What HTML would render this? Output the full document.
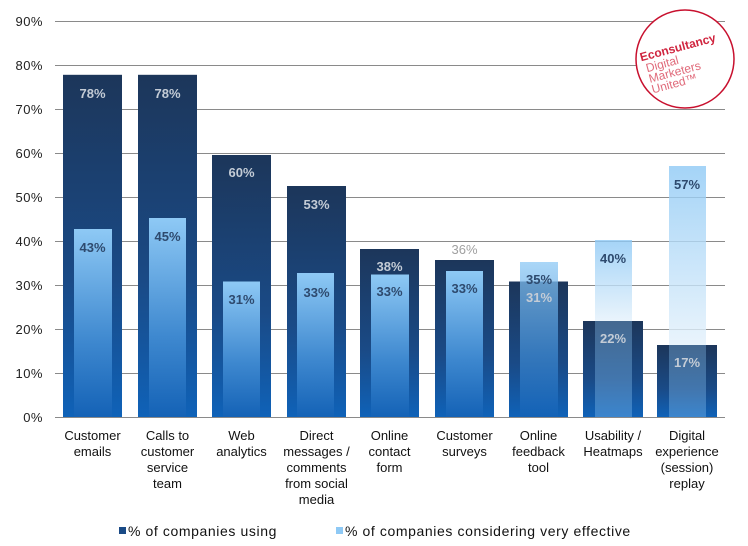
<!DOCTYPE html>
<html><head><style>
html,body{margin:0;padding:0;background:#fff;}
svg{display:block;font-family:"Liberation Sans",Arial,sans-serif;}
</style></head><body>
<svg width="748" height="546" viewBox="0 0 748 546">
<defs>
<linearGradient id="dk" x1="0" y1="0" x2="0" y2="1">
<stop offset="0" stop-color="#1c365a"/><stop offset="0.6" stop-color="#1a4a86"/><stop offset="1" stop-color="#0f62b8"/>
</linearGradient>
<linearGradient id="lt" x1="0" y1="0" x2="0" y2="1">
<stop offset="0" stop-color="#8ec9f5"/><stop offset="0.6" stop-color="#3e88cf"/><stop offset="1" stop-color="#1462b6"/>
</linearGradient>
<linearGradient id="lt2" x1="0" y1="0" x2="0" y2="1">
<stop offset="0" stop-color="#8ec9f5"/><stop offset="1" stop-color="#e4f1fb"/>
</linearGradient>
</defs>
<g stroke="#8a8a8a" stroke-width="1">
<line x1="55" y1="21.5" x2="725" y2="21.5"/><line x1="55" y1="65.5" x2="725" y2="65.5"/>
<line x1="55" y1="109.5" x2="725" y2="109.5"/><line x1="55" y1="153.5" x2="725" y2="153.5"/>
<line x1="55" y1="197.5" x2="725" y2="197.5"/><line x1="55" y1="241.5" x2="725" y2="241.5"/>
<line x1="55" y1="285.5" x2="725" y2="285.5"/><line x1="55" y1="329.5" x2="725" y2="329.5"/>
<line x1="55" y1="373.5" x2="725" y2="373.5"/><line x1="55" y1="417.5" x2="725" y2="417.5"/>
</g>
<g font-size="13" fill="#222" text-anchor="end" letter-spacing="0.5">
<text x="43" y="26">90%</text><text x="43" y="70">80%</text><text x="43" y="114">70%</text>
<text x="43" y="158">60%</text><text x="43" y="202">50%</text><text x="43" y="246">40%</text>
<text x="43" y="290">30%</text><text x="43" y="334">20%</text><text x="43" y="378">10%</text>
<text x="43" y="422">0%</text>
</g>
<g fill="url(#dk)">
<rect x="63" y="74.8" width="59" height="342.2"/>
<rect x="138" y="74.8" width="59" height="342.2"/>
<rect x="212" y="155" width="59" height="262"/>
<rect x="287" y="186" width="59" height="231"/>
<rect x="360" y="249" width="59" height="168"/>
<rect x="435" y="260" width="59" height="157"/>
<rect x="509" y="281.5" width="59" height="135.5"/>
<rect x="583" y="321" width="60" height="96"/>
<rect x="657" y="345" width="60" height="72"/>
</g>
<g fill="url(#lt)">
<rect x="74" y="229" width="38" height="188"/>
<rect x="149" y="218" width="37" height="199"/>
<rect x="223" y="281.5" width="37" height="135.5"/>
<rect x="297" y="273" width="37" height="144"/>
<rect x="371" y="274.5" width="38" height="142.5"/>
<rect x="446" y="271" width="37" height="146"/>
<rect x="520" y="262" width="38" height="155" opacity="0.75"/>
</g>
<g opacity="0.8">
<rect x="595" y="240" width="37" height="81" fill="url(#lt2)"/>
<rect x="669" y="166" width="37" height="179" fill="url(#lt2)"/>
</g>
<g opacity="0.35" fill="#8ec9f5">
<rect x="595" y="321" width="37" height="96"/>
<rect x="669" y="345" width="37" height="72"/>
</g>
<g font-size="13" font-weight="bold" text-anchor="middle">
<g fill="#c4ccd6">
<text x="92.5" y="98">78%</text><text x="167.5" y="98">78%</text><text x="241.5" y="177">60%</text>
<text x="316.5" y="209">53%</text><text x="389.5" y="271">38%</text>
<text x="539" y="302">31%</text><text x="613" y="343">22%</text><text x="687" y="367">17%</text>
</g>
<text x="464.5" y="254" fill="#a0a0a0" font-weight="normal">36%</text>
<g fill="#2e4a6e">
<text x="92.5" y="252">43%</text><text x="167.5" y="241">45%</text><text x="241.5" y="304">31%</text>
<text x="316.5" y="297">33%</text><text x="389.5" y="296">33%</text><text x="464.5" y="293">33%</text>
<text x="539" y="284">35%</text><text x="613" y="263">40%</text><text x="687" y="189">57%</text>
</g>
</g>
<g font-size="13" fill="#111" text-anchor="middle">
<text x="92.5" y="440">Customer</text><text x="92.5" y="456">emails</text>
<text x="167.5" y="440">Calls to</text><text x="167.5" y="456">customer</text><text x="167.5" y="472">service</text><text x="167.5" y="488">team</text>
<text x="241.5" y="440">Web</text><text x="241.5" y="456">analytics</text>
<text x="316.5" y="440">Direct</text><text x="316.5" y="456">messages /</text><text x="316.5" y="472">comments</text><text x="316.5" y="488">from social</text><text x="316.5" y="504">media</text>
<text x="389.5" y="440">Online</text><text x="389.5" y="456">contact</text><text x="389.5" y="472">form</text>
<text x="464.5" y="440">Customer</text><text x="464.5" y="456">surveys</text>
<text x="538.5" y="440">Online</text><text x="538.5" y="456">feedback</text><text x="538.5" y="472">tool</text>
<text x="613" y="440">Usability /</text><text x="613" y="456">Heatmaps</text>
<text x="687" y="440">Digital</text><text x="687" y="456">experience</text><text x="687" y="472">(session)</text><text x="687" y="488">replay</text>
</g>
<rect x="119" y="527" width="7" height="7" fill="#1a4a86"/>
<text x="128" y="536" font-size="14" fill="#111" letter-spacing="0.6">% of companies using</text>
<rect x="336" y="527" width="7" height="7" fill="#8ec9f5"/>
<text x="345" y="536" font-size="14" fill="#111" letter-spacing="0.6">% of companies considering very effective</text>
<circle cx="685" cy="59" r="49" fill="#fff" stroke="#c8102e" stroke-width="1.5"/>
<g transform="rotate(-15 685 59)" font-size="12" fill="#d0253f">
<text x="642" y="50" font-weight="bold">Econsultancy</text>
<text x="645" y="62" fill="#e06a7a">Digital</text>
<text x="645" y="73" fill="#e06a7a">Marketers</text>
<text x="645" y="84" fill="#e06a7a">United™</text>
</g>
</svg>
</body></html>
